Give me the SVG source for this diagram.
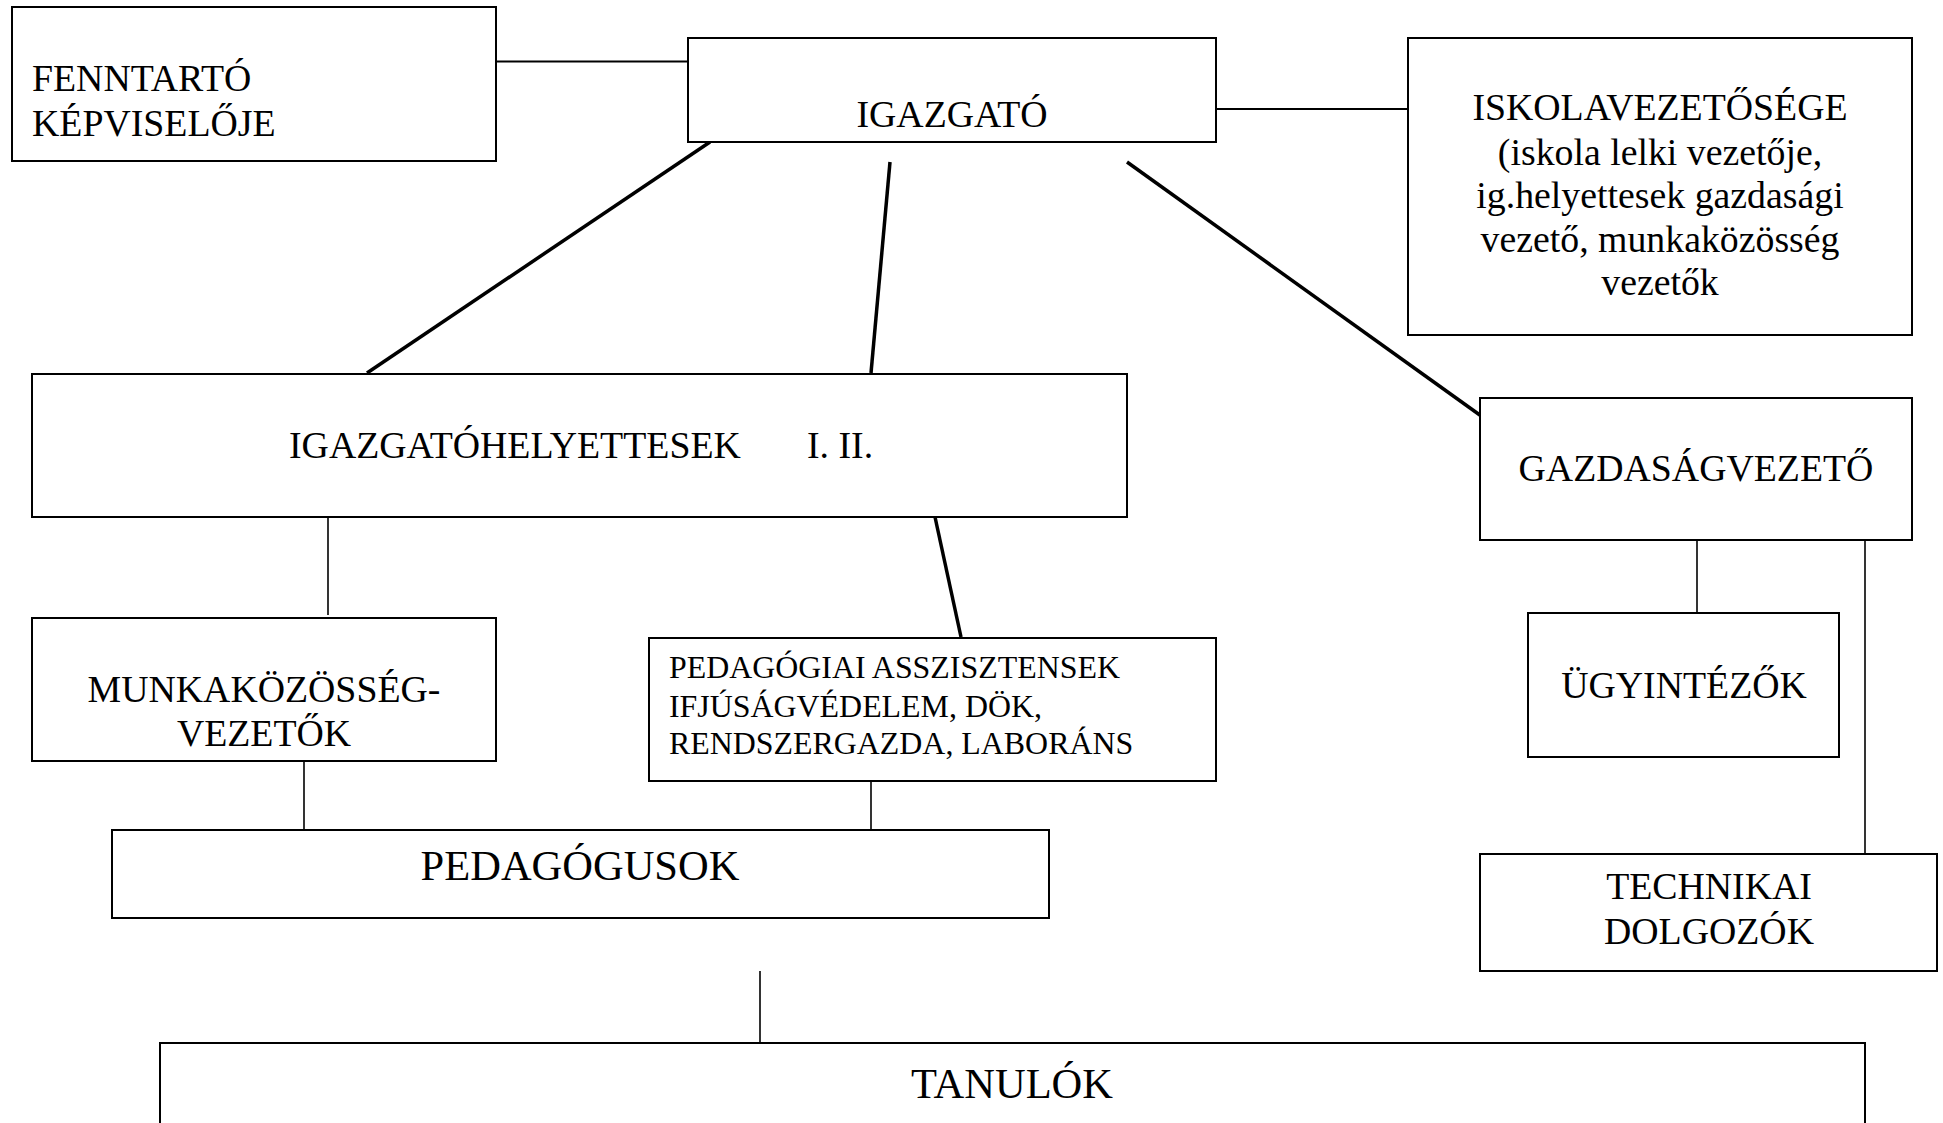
<svg xmlns="http://www.w3.org/2000/svg" width="1943" height="1123" viewBox="0 0 1943 1123">
<style>
.box{fill:#fff;stroke:#000;stroke-width:2}
.t{font-family:"Liberation Serif","Times New Roman",serif;font-size:37.8px;fill:#000}
.c{text-anchor:middle}
.s{font-size:31.9px}
.b{font-size:42.5px}
.thick{stroke:#000;stroke-width:3.5;fill:none}
.mid{stroke:#000;stroke-width:2;fill:none}
.thin{stroke:#000;stroke-width:1.6;fill:none}
</style>
<rect width="1943" height="1123" fill="#fff"/>
<g id="connectors">
<line class="mid" x1="496" y1="61.5" x2="688" y2="61.5"/>
<line class="mid" x1="1216" y1="109" x2="1408" y2="109"/>
<line class="thick" x1="710" y1="142" x2="367" y2="373"/>
<line class="thick" x1="890" y1="162" x2="871" y2="373"/>
<line class="thick" x1="1127" y1="162" x2="1484" y2="418"/>
<line class="thin" x1="328" y1="517" x2="328" y2="615"/>
<line class="thick" x1="935" y1="517" x2="961" y2="637"/>
<line class="thin" x1="304" y1="761" x2="304" y2="830"/>
<line class="thin" x1="871" y1="781" x2="871" y2="836"/>
<line class="thin" x1="1697" y1="540" x2="1697" y2="613"/>
<line class="thin" x1="1865" y1="540" x2="1865" y2="854"/>
<line class="thin" x1="760" y1="971" x2="760" y2="1043"/>
</g>
<g id="fenntarto">
<rect class="box" x="12" y="7" width="484" height="154"/>
<text class="t" x="32" y="91">FENNTARTÓ</text>
<text class="t" x="32" y="136">KÉPVISELŐJE</text>
</g>
<g id="igazgato">
<rect class="box" x="688" y="38" width="528" height="104"/>
<text class="t c" x="952" y="127">IGAZGATÓ</text>
</g>
<g id="iskolavezetoseg">
<rect class="box" x="1408" y="38" width="504" height="297"/>
<text class="t c" x="1660" y="120">ISKOLAVEZETŐSÉGE</text>
<text class="t c" x="1660" y="165">(iskola lelki vezetője,</text>
<text class="t c" x="1660" y="208">ig.helyettesek gazdasági</text>
<text class="t c" x="1660" y="252">vezető, munkaközösség</text>
<text class="t c" x="1660" y="295">vezetők</text>
</g>
<g id="igazgatohelyettesek">
<rect class="box" x="32" y="374" width="1095" height="143"/>
<text class="t" x="289" y="458">IGAZGATÓHELYETTESEK</text>
<text class="t" x="807" y="458">I. II.</text>
</g>
<g id="gazdasagvezeto">
<rect class="box" x="1480" y="398" width="432" height="142"/>
<text class="t c" x="1696" y="481">GAZDASÁGVEZETŐ</text>
</g>
<g id="munkakozosseg">
<rect class="box" x="32" y="618" width="464" height="143"/>
<text class="t c" x="264" y="702">MUNKAKÖZÖSSÉG-</text>
<text class="t c" x="264" y="746">VEZETŐK</text>
</g>
<g id="pedagogiai">
<rect class="box" x="649" y="638" width="567" height="143"/>
<text class="t s" x="669" y="678">PEDAGÓGIAI ASSZISZTENSEK</text>
<text class="t s" x="669" y="717">IFJÚSÁGVÉDELEM, DÖK,</text>
<text class="t s" x="669" y="754">RENDSZERGAZDA, LABORÁNS</text>
</g>
<g id="ugyintezok">
<rect class="box" x="1528" y="613" width="311" height="144"/>
<text class="t c" x="1684" y="698">ÜGYINTÉZŐK</text>
</g>
<g id="pedagogusok">
<rect class="box" x="112" y="830" width="937" height="88"/>
<text class="t b c" x="580" y="880">PEDAGÓGUSOK</text>
</g>
<g id="technikai">
<rect class="box" x="1480" y="854" width="457" height="117"/>
<text class="t c" x="1709" y="899">TECHNIKAI</text>
<text class="t c" x="1709" y="944">DOLGOZÓK</text>
</g>
<g id="tanulok">
<rect class="box" x="160" y="1043" width="1705" height="100"/>
<text class="t b c" x="1012" y="1098">TANULÓK</text>
</g>
</svg>
